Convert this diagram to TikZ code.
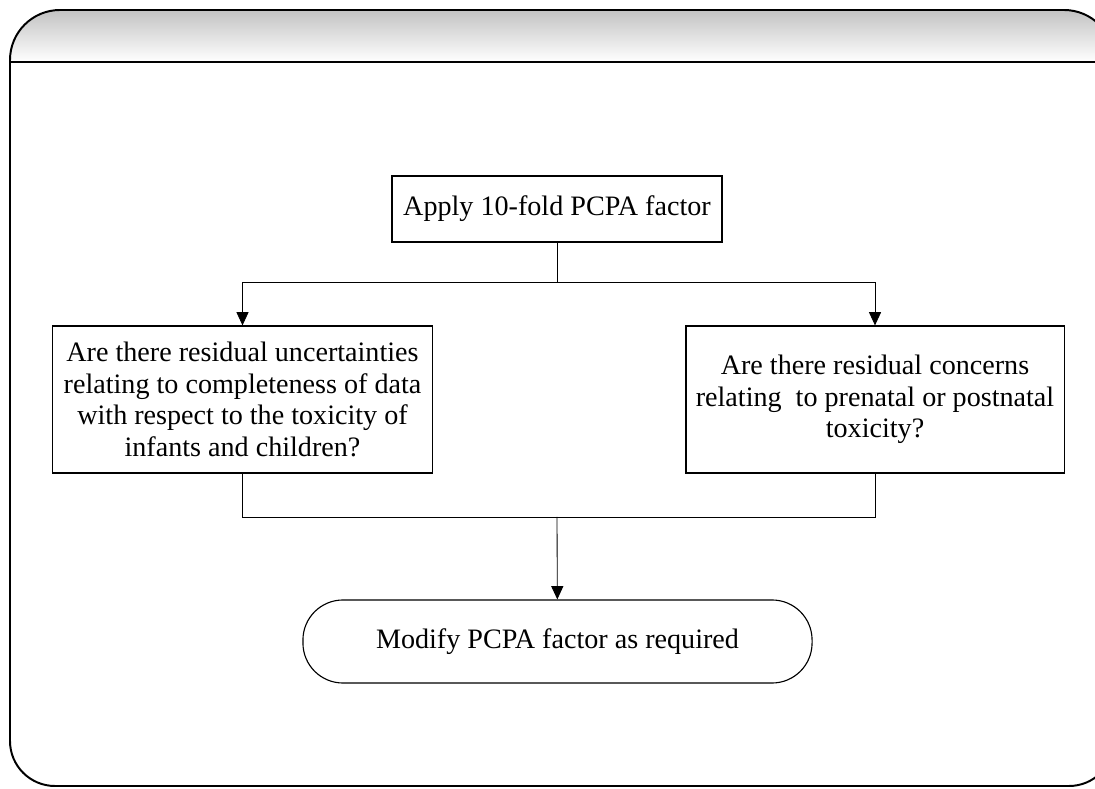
\documentclass[tikz,border=0pt]{standalone}
\usepackage{fontspec}
\setmainfont{Liberation Serif}
\usepackage{tikz}
\usetikzlibrary{arrows.meta, positioning, calc}
\definecolor{headgray}{RGB}{192, 192, 192}

\tikzset{
  stepbox/.style={draw, line width=0.8pt, fill=white, align=center, inner sep=2pt},
  flowline/.style={line width=0.6pt},
  flowarrow/.style={line width=0.6pt, -{Triangle[length=0.33cm, width=0.3cm]}}
}

\begin{document}
\begin{tikzpicture}[x=0.025cm, y=0.025cm, font=\fontsize{20}{22.4}\selectfont]
  % Page area
  \useasboundingbox (0,0) rectangle (1095,788);
  \clip (0,0) rectangle (1095,788);

  % Slide frame with shaded title band (right side runs off the page)
  \begin{scope}
    \clip (10,726) -- (10,728) arc[start angle=180, end angle=90, radius=50]
      -- (1064,778) arc[start angle=90, end angle=0, radius=50] -- (1114,726) -- cycle;
    \shade[top color=headgray, bottom color=white] (0,726) rectangle (1120,780);
  \end{scope}
  \draw[line width=1.4pt] (10,726) -- (10,728) arc[start angle=180, end angle=90, radius=50]
    -- (1064,778) arc[start angle=90, end angle=0, radius=50];
  \draw[line width=1.4pt] (10,726) -- (10,47) arc[start angle=180, end angle=270, radius=45]
    -- (1069,2) arc[start angle=-90, end angle=0, radius=45];
  \draw[line width=1.4pt] (10,726) -- (1114,726);

  % Start
  \node[stepbox, minimum width=8.25cm, minimum height=1.65cm] (apply) at (557,579) {Apply 10-fold PCPA factor};

  % Questions
  \node[stepbox, minimum width=9.5cm, minimum height=3.675cm] (uncert) at (242.5,388.5)
    {Are there residual uncertainties\\relating to completeness of data\\with respect to the toxicity of\\infants and children?};
  \node[stepbox, minimum width=9.45cm, minimum height=3.675cm] (concern) at (875,388.5)
    {Are there residual concerns\\relating\ \ to prenatal or postnatal\\toxicity?};

  % Outcome
  \node[stepbox, rounded corners=1.0cm, minimum width=12.725cm, minimum height=2.075cm] (modify) at (557.5,146.5)
    {Modify PCPA factor as required};

  % Connectors
  \coordinate (split) at (557,506);
  \coordinate (merge) at (557,271);
  \draw[flowline] (apply) -- (split);
  \draw[flowarrow] (split) -| (uncert);
  \draw[flowarrow] (split) -| (concern);
  \draw[flowline] (uncert) |- (merge);
  \draw[flowline] (concern) |- (merge);
  \draw[flowarrow] (merge) -- (modify);
\end{tikzpicture}
\end{document}
